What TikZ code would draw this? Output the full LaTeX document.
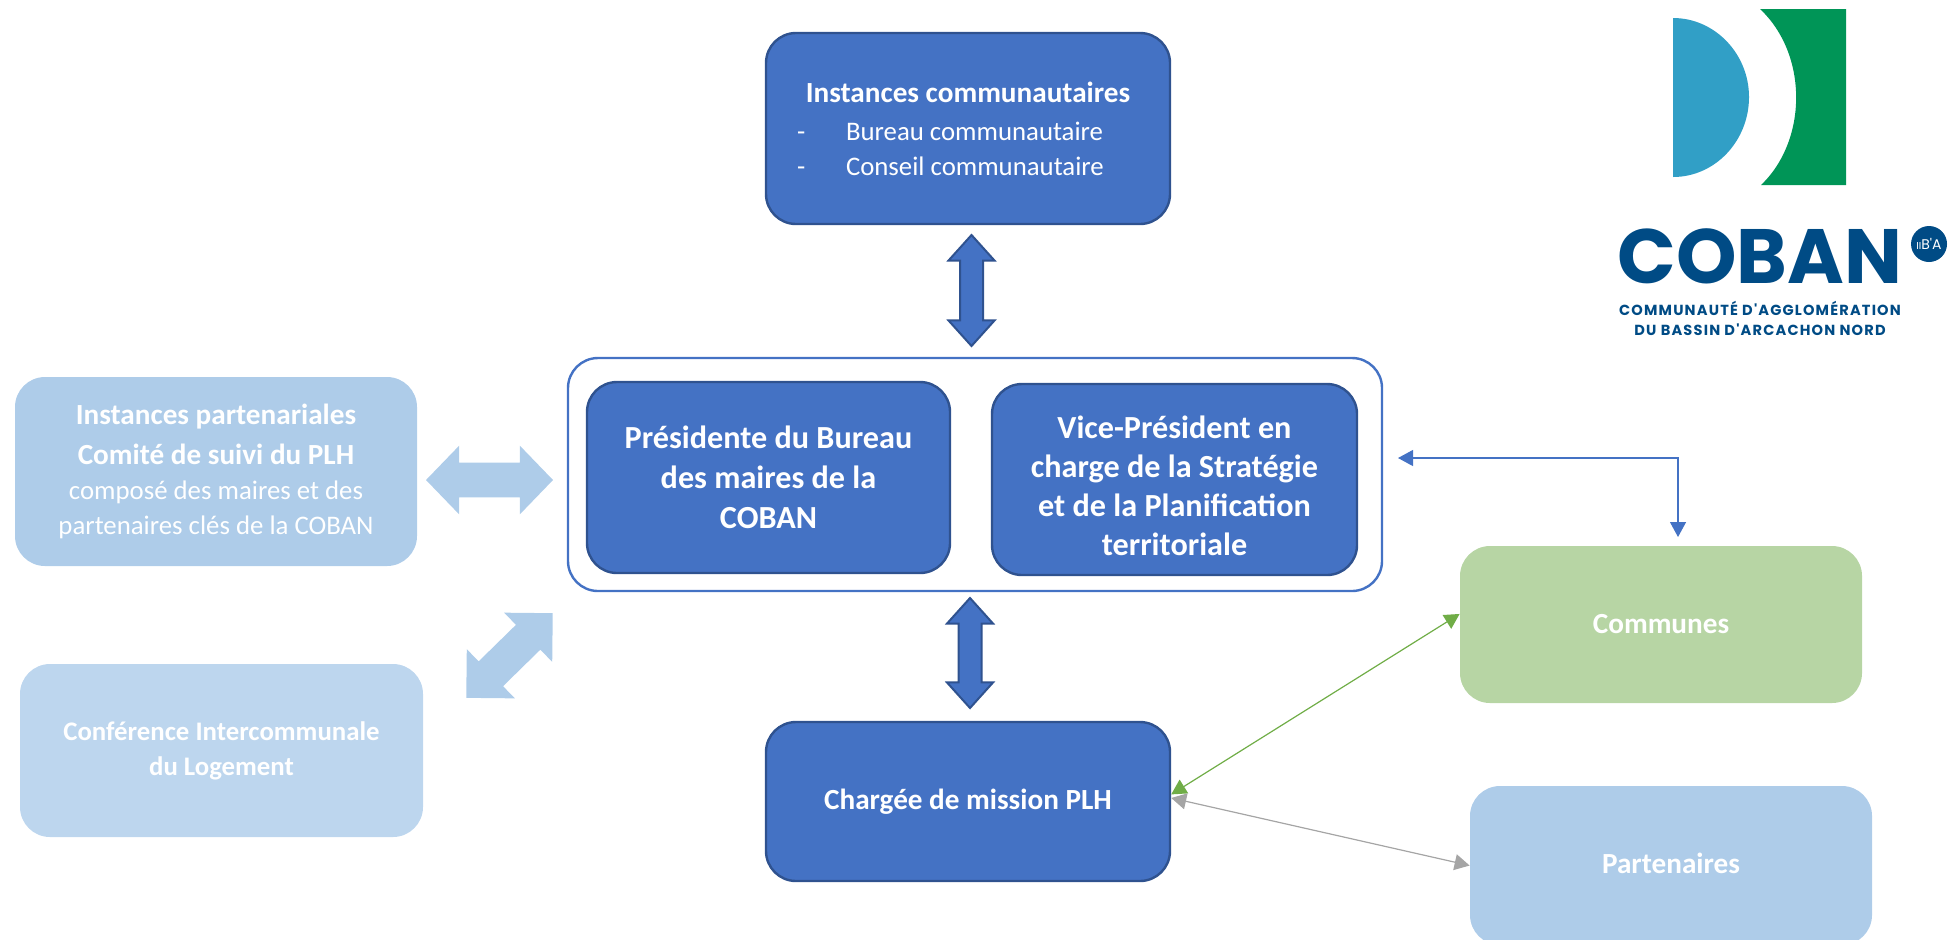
\documentclass[tikz,border=0pt]{standalone}
\usepackage{fontspec}
\setmainfont{Carlito}
\newfontfamily\logofont{Poppins}
\newfontfamily\logosmall[LetterSpace=8]{Poppins}
\usetikzlibrary{arrows.meta,shapes.arrows}
\definecolor{cobanblue}{HTML}{4472C4}
\definecolor{cobanline}{HTML}{2F528F}
\definecolor{paleblue}{HTML}{AECCE9}
\definecolor{palerblue}{HTML}{BDD6EE}
\definecolor{palegreen}{HTML}{B7D5A4}
\definecolor{linkgreen}{HTML}{70AD47}
\definecolor{linkgrey}{HTML}{A5A5A5}
\definecolor{logoblue}{HTML}{319FC6}
\definecolor{logogreen}{HTML}{009557}
\definecolor{logonavy}{HTML}{004B85}
\newcommand{\boldsize}{\fontsize{14.6}{17.5}\selectfont\bfseries}
\newcommand{\plainsize}{\fontsize{13.4}{17.5}\selectfont}
\newcommand{\dashline}[1]{\makebox[171pt][l]{\makebox[24.5pt][l]{-}#1}}
\tikzset{x=0.5pt,y=-0.5pt,
	box/.style={rounded corners=15pt,align=center,text=white,inner sep=0pt,font=\plainsize},
	darkbox/.style={box,fill=cobanblue,draw=cobanline,line width=1.2pt},
	bigbox/.style={darkbox,font=\fontsize{16.1}{20}\selectfont\bfseries},
	bothways/.style={double arrow,double arrow head indent=0pt,inner xsep=0pt,anchor=center},
	dblue/.style={bothways,inner ysep=5.25pt,minimum width=22pt,double arrow head extend=5.75pt,double arrow tip angle=84,fill=cobanblue,draw=cobanline,line width=1pt},
	lblue/.style={bothways,inner ysep=8.5pt,minimum width=34pt,double arrow head extend=8.5pt,fill=paleblue},
	link/.style={{Triangle[length=7.5pt,width=8pt]}-{Triangle[length=7.5pt,width=8pt]},line width=0.6pt},
	}

\begin{document}
\begin{tikzpicture}
	\useasboundingbox (0,0) rectangle (1957,939);
	% centre
	\node[darkbox,minimum width=202pt,minimum height=95.5pt] (instances) at (968,128.5) {{\boldsize Instances communautaires}\\[1.5pt]
		\dashline{Bureau communautaire}\\
		\dashline{Conseil communautaire}};
	\node[draw=cobanblue,line width=1.2pt,rounded corners=15pt,minimum width=407pt,minimum height=116.5pt] (cadre) at (975,474.5) {};
	\node[bigbox,minimum width=181.5pt,minimum height=95.5pt] (presidente) at (768.5,477.5) {Présidente du Bureau\\des maires de la\\COBAN};
	\node[bigbox,font=\fontsize{16.1}{19.5}\selectfont\bfseries,minimum width=182.5pt,minimum height=95.5pt] (vicepresident) at (1174.5,479.5) {\rule{0pt}{17.5pt}Vice-Président en\\charge de la Stratégie\\et de la Planification\\territoriale};
	\node[bigbox,font=\boldsize,minimum width=202pt,minimum height=79.5pt] (mission) at (968,801.5) {Chargée de mission PLH};
	% left
	\node[box,fill=paleblue,minimum width=201pt,minimum height=94.5pt] (partenariales) at (216,471.5) {{\boldsize Instances partenariales}\\[2.5pt]
		{\boldsize Comité de suivi du PLH}\\
		composé des maires et des\\
		partenaires clés de la COBAN};
	\node[box,fill=palerblue,font=\plainsize\bfseries,minimum width=201.5pt,minimum height=86.5pt] (conference) at (221.5,750.5) {Conférence Intercommunale\\du Logement};
	% right
	\node[box,fill=palegreen,font=\boldsize,minimum width=201pt,minimum height=78.5pt] (communes) at (1661,624.5) {Communes};
	\node[box,fill=paleblue,font=\boldsize,text depth=2.5pt,minimum width=201pt,minimum height=79.5pt] (partenaires) at (1671,865.5) {Partenaires};
	% block arrows
	\node[dblue,rotate=90,minimum height=55.5pt] (flechehaut) at (971.5,290.5) {};
	\node[dblue,rotate=90,minimum height=55pt] (flechebas) at (970,653) {};
	\node[lblue,minimum height=63.5pt,double arrow tip angle=92] (flechecomite) at (489.5,480) {};
	\node[lblue,rotate=44.4,minimum height=60.5pt,double arrow tip angle=90] (flecheconf) at (509.5,655.5) {};
	% links
	\coordinate (vpend) at (1398,458);
	\coordinate (comend) at (1678,537);
	\draw[link,draw=cobanblue] (vpend) -| (comend);
	\draw[link,draw=linkgreen] (mission.2.8) -- (communes.177.9);
	\draw[link,draw=linkgrey] (mission.1.7) -- (partenaires.west);
	% logo
	\fill[logoblue] (1673,18) .. controls (1715,18) and (1749,54) .. (1749,97) .. controls (1749,141) and (1715,177) .. (1673,177) -- cycle;
	\fill[logogreen] (1760,9) -- (1846,9) -- (1846,185) -- (1761,185) .. controls (1808,140) and (1808,54) .. (1760,9) -- cycle;
	\node[inner sep=0pt,text=logonavy,font=\fontsize{38.5}{39}\logofont\bfseries] (coban) at (1760,256.5) {COBAN};
	\node[circle,fill=logonavy,text=white,inner sep=0pt,minimum size=18pt,font=\fontsize{7}{7}\logofont] (iba) at (1929,244) {{\fontsize{5}{5}\selectfont II}B'A};
	\node[inner sep=0pt,align=center,text=logonavy,font=\fontsize{7.3}{10}\logosmall\bfseries] (agglo) at (1760,318) {COMMUNAUTÉ D'AGGLOMÉRATION\\DU BASSIN D'ARCACHON NORD};
\end{tikzpicture}
\end{document}
